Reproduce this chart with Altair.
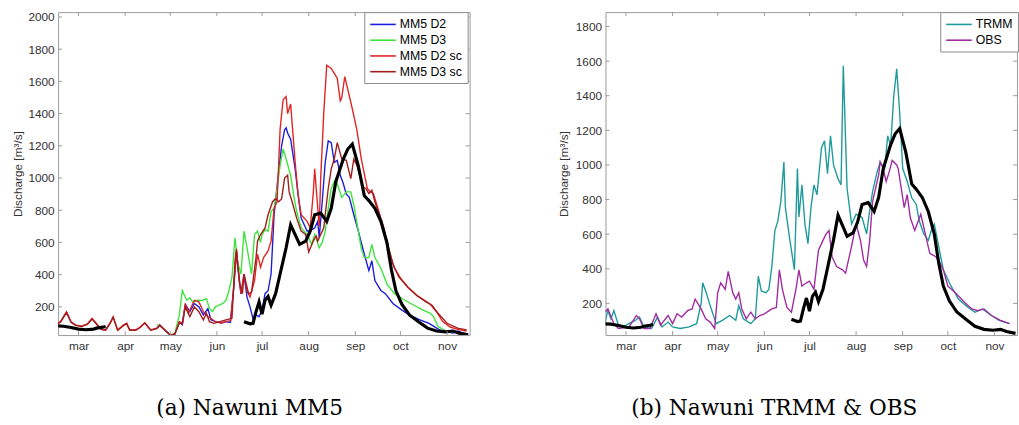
import altair as alt
import pandas as pd

# ---------------- axis ticks / labels ----------------
month_ticks = [60, 91, 121, 152, 182, 213, 244, 274, 305]
month_labels = ['mar', 'apr', 'may', 'jun', 'jul', 'aug', 'sep', 'oct', 'nov']
yticks_a = [200, 400, 600, 800, 1000, 1200, 1400, 1600, 1800, 2000]
yticks_b = [200, 400, 600, 800, 1000, 1200, 1400, 1600, 1800]

# ---------------- observed discharge (black, both panels) ----------------
obs_early = [(46, 82), (50, 80), (55, 72), (60, 62), (65, 58), (70, 62), (72, 68), (76, 74), (78, 78)]
obs_main = [(170, 108), (174, 95), (176, 98), (178, 170), (180, 231), (182, 155), (184, 241), (186, 265),
            (188, 210), (191, 282), (194, 404), (198, 567), (201, 710), (204, 649), (207, 588), (211, 608),
            (214, 670), (217, 772), (221, 782), (225, 731), (228, 812), (231, 976), (236, 1118), (239, 1180),
            (242, 1210), (246, 1075), (250, 890), (253, 860), (257, 812), (261, 731), (265, 600), (268, 430),
            (271, 300), (275, 215), (280, 150), (286, 108), (292, 68), (298, 50), (304, 45), (309, 50),
            (313, 37), (319, 27)]

# ---------------- panel (a): MM5 ----------------
mm5_d2 = [(112, 68), (114, 88), (117, 60), (121, 25), (124, 30), (127, 105), (129, 90), (131, 215), (134, 170),
          (137, 221), (140, 200), (143, 150), (146, 190), (148, 120), (151, 108), (155, 100), (158, 108),
          (161, 105), (163, 300), (165, 540), (166, 440), (168, 280), (170, 400), (172, 260), (174, 200),
          (176, 125), (178, 150), (180, 139), (182, 180), (184, 282), (186, 300), (188, 404), (190, 772),
          (192, 950), (193, 1037), (195, 1200), (197, 1300), (198, 1312), (199, 1280), (201, 1241), (204, 1057),
          (206, 894), (208, 751), (212, 670), (215, 680), (217, 690), (219, 731), (220, 629), (222, 853),
          (224, 1098), (226, 1231), (228, 1220), (230, 1098), (232, 1110), (234, 1017), (236, 966), (238, 900),
          (240, 880), (243, 772), (246, 670), (250, 527), (253, 425), (255, 486), (257, 363), (261, 302),
          (264, 282), (269, 221), (275, 180), (280, 149), (287, 119), (293, 98), (300, 57), (305, 45),
          (309, 37), (312, 50), (315, 40), (319, 27)]
mm5_d3 = [(112, 88), (114, 85), (117, 60), (121, 25), (124, 35), (127, 150), (129, 302), (131, 260), (132, 241),
          (134, 255), (136, 230), (139, 241), (142, 240), (145, 251), (147, 190), (149, 170), (151, 200),
          (153, 210), (156, 221), (158, 241), (160, 300), (162, 384), (164, 629), (166, 466), (168, 404),
          (170, 670), (172, 567), (175, 404), (177, 649), (179, 670), (181, 600), (182, 649), (184, 680),
          (186, 670), (188, 792), (190, 812), (192, 935), (194, 1078), (196, 1180), (198, 1118), (201, 1017),
          (203, 894), (205, 792), (208, 690), (212, 649), (215, 588), (217, 650), (220, 567), (222, 600),
          (224, 670), (226, 812), (228, 935), (231, 996), (233, 935), (235, 880), (238, 914), (241, 914),
          (243, 833), (246, 670), (248, 560), (250, 506), (253, 506), (255, 588), (257, 506), (261, 440),
          (265, 343), (270, 282), (277, 241), (283, 210), (289, 180), (294, 160), (296, 139), (299, 78),
          (305, 47), (312, 40), (318, 30)]
mm5_d2_sc = [(46, 98), (48, 108), (52, 170), (55, 108), (58, 88), (62, 80), (66, 95), (69, 129), (72, 95),
             (75, 62), (78, 57), (81, 100), (83, 139), (86, 57), (90, 88), (92, 98), (94, 57), (98, 57),
             (101, 75), (104, 102), (108, 57), (112, 68), (114, 88), (117, 60), (121, 25), (124, 30), (127, 108),
             (129, 100), (131, 221), (133, 160), (137, 241), (140, 231), (143, 170), (146, 140), (148, 129),
             (151, 108), (155, 100), (158, 108), (161, 115), (163, 302), (165, 547), (166, 445), (168, 282),
             (170, 404), (172, 300), (174, 261), (177, 363), (179, 527), (181, 445), (183, 506), (186, 547),
             (188, 608), (190, 812), (192, 853), (194, 1302), (196, 1486), (198, 1506), (199, 1400), (201, 1460),
             (203, 1220), (204, 1098), (206, 894), (208, 772), (212, 731), (214, 690), (216, 900), (217, 1057),
             (218, 935), (220, 700), (221, 1000), (223, 1400), (225, 1700), (228, 1680), (230, 1650),
             (232, 1620), (234, 1480), (235, 1500), (237, 1630), (239, 1550), (242, 1430), (245, 1300),
             (248, 1118), (252, 935), (254, 914), (256, 904), (259, 812), (263, 690), (266, 560), (270, 440),
             (274, 380), (279, 320), (285, 270), (290, 240), (294, 215), (298, 170), (302, 110), (307, 75),
             (312, 60), (318, 50)]
mm5_d3_sc = [(46, 95), (48, 105), (52, 165), (55, 105), (58, 85), (62, 78), (66, 92), (69, 125), (72, 92),
             (75, 60), (78, 55), (81, 98), (83, 135), (86, 55), (90, 85), (92, 95), (94, 55), (98, 55),
             (101, 72), (104, 100), (108, 55), (112, 65), (114, 85), (117, 58), (121, 25), (124, 32), (127, 100),
             (129, 95), (131, 200), (134, 140), (137, 200), (140, 170), (143, 119), (145, 160), (147, 108),
             (150, 98), (154, 108), (158, 119), (162, 129), (164, 486), (165, 560), (167, 343), (169, 282),
             (170, 404), (173, 282), (175, 290), (178, 506), (179, 608), (181, 649), (184, 690), (186, 772),
             (189, 853), (191, 873), (193, 853), (195, 870), (197, 1000), (199, 1017), (200, 914), (202, 853),
             (205, 751), (208, 670), (211, 650), (213, 540), (216, 608), (218, 640), (219, 608), (221, 650),
             (223, 690), (226, 935), (228, 1057), (230, 1118), (232, 1220), (235, 1118), (238, 1110),
             (241, 996), (243, 1118), (245, 1080), (249, 945), (251, 935), (253, 904), (255, 925), (257, 853),
             (260, 772), (265, 608), (269, 466), (273, 384), (279, 322), (285, 271), (291, 231), (295, 210),
             (299, 160), (305, 98), (312, 68), (318, 57)]

# ---------------- panel (b): TRMM & OBS ----------------
trmm = [(46, 92), (48, 158), (50, 111), (52, 158), (55, 74), (58, 64), (62, 83), (66, 100), (69, 121), (72, 64),
        (77, 55), (81, 121), (84, 64), (88, 92), (91, 64), (96, 55), (102, 64), (107, 83), (110, 200),
        (111, 319), (113, 272), (116, 187), (120, 83), (124, 102), (129, 130), (133, 102), (135, 187),
        (138, 111), (143, 83), (146, 111), (148, 357), (150, 272), (153, 262), (155, 281), (157, 413),
        (159, 621), (161, 677), (163, 791), (165, 1017), (166, 753), (169, 564), (172, 394), (174, 979),
        (175, 700), (177, 885), (179, 658), (181, 545), (183, 753), (185, 885), (187, 828), (190, 1100),
        (192, 1140), (194, 950), (196, 1168), (198, 1000), (201, 920), (203, 885), (204.5, 1573), (207, 866),
        (210, 658), (213, 715), (217, 696), (220, 602), (222, 734), (224, 847), (227, 960), (229, 1017),
        (232, 979), (234, 1168), (236, 1111), (238, 1394), (240, 1555), (242, 1300), (244, 979), (247, 904),
        (250, 810), (253, 772), (255, 677), (258, 602), (261, 564), (263, 621), (265, 658), (268, 526),
        (271, 394), (275, 319), (281, 225), (286, 187), (292, 149), (297, 168), (303, 130), (308, 102),
        (315, 83)]
obs_purple = [(46, 149), (48, 168), (52, 83), (55, 55), (62, 64), (67, 130), (69, 111), (72, 55), (76, 55),
              (80, 140), (83, 74), (88, 130), (91, 83), (94, 140), (97, 121), (101, 158), (104, 168), (106, 225),
              (110, 168), (113, 111), (116, 92), (119, 55), (121, 262), (123, 319), (126, 281), (128, 385),
              (131, 262), (133, 225), (135, 262), (137, 168), (140, 111), (143, 149), (146, 111), (149, 130),
              (152, 140), (157, 168), (160, 177), (162, 394), (164, 281), (167, 177), (170, 149), (173, 281),
              (175, 394), (177, 300), (180, 319), (182, 328), (185, 281), (188, 508), (191, 564), (193, 600),
              (195, 621), (197, 470), (200, 413), (204, 394), (206, 375), (210, 530), (213, 660), (216, 560),
              (218, 451), (220, 413), (222, 560), (224, 791), (226, 866), (228, 942), (229, 1017), (231, 979),
              (233, 904), (235, 960), (237, 1026), (240, 1000), (241, 979), (243, 866), (245, 753), (247, 828),
              (249, 696), (252, 621), (256, 715), (259, 602), (262, 489), (266, 470), (269, 432), (271, 394),
              (274, 300), (279, 262), (284, 215), (290, 168), (294, 158), (298, 168), (303, 130), (309, 102),
              (315, 83)]

names_a = ['MM5 D2', 'MM5 D3', 'MM5 D2 sc', 'MM5 D3 sc']
colors_a = ['#1c1ce0', '#3ee43e', '#e02424', '#a21c1c']
names_b = ['TRMM', 'OBS']
colors_b = ['#1f9a9a', '#a12ca1']

# ---------------- layout constants ----------------
W, H = 418, 328
XDOM = [46.4, 320]
FONT = 'Liberation Sans'
FRAME = '#9a9a9a'


def frame_df(pairs, name):
    return pd.DataFrame({'day': [p[0] for p in pairs], 'q': [p[1] for p in pairs], 'series': name})


obs_df = pd.concat([
    pd.DataFrame({'day': [p[0] for p in obs_early], 'q': [p[1] for p in obs_early], 'seg': 'a'}),
    pd.DataFrame({'day': [p[0] for p in obs_main], 'q': [p[1] for p in obs_main], 'seg': 'b'}),
])

label_expr = f"{month_labels}[indexof({month_ticks}, datum.value)]"


def panel(series, names, colors, ydom, yticks, caption, cap_x, ytitle_x, legend_x):
    xs = alt.Scale(domain=XDOM, nice=False, zero=False)
    ys = alt.Scale(domain=ydom, nice=False, zero=False)
    xaxis = alt.Axis(values=month_ticks, labelExpr=label_expr, ticks=False, domain=False, grid=False,
                     labelFont=FONT, labelFontSize=12, labelColor='#333333', labelPadding=6,
                     title=caption, titleFont='DejaVu Serif', titleFontSize=22, titleFontWeight='normal',
                     titleColor='black', titleX=cap_x, titleY=81, titleBaseline='alphabetic')
    yaxis = alt.Axis(values=yticks, format='d', ticks=False, domain=False, grid=False, labelFont=FONT,
                     labelFontSize=12, labelColor='#333333', labelPadding=4,
                     title='Discharge [m³/s]', titleFont=FONT, titleFontSize=12, titleFontWeight='normal',
                     titleColor='#333333', titleX=ytitle_x, titleBaseline='middle')
    X = alt.X('day:Q', scale=xs, axis=xaxis)
    Y = alt.Y('q:Q', scale=ys, axis=yaxis)
    legend = alt.Legend(orient='none', legendX=legend_x, legendY=0, title=None, fillColor='white',
                        strokeColor='#8a8a8a', padding=5, symbolType='M-1,0H3', symbolSize=169,
                        symbolStrokeWidth=1.6, labelFont=FONT, labelFontSize=12.5, labelColor='black',
                        rowPadding=2, labelOffset=16, cornerRadius=0)
    C = alt.Color('series:N', scale=alt.Scale(domain=names, range=colors), legend=legend)
    layers = []
    for pairs, name in zip(series, names):
        layers.append(alt.Chart(frame_df(pairs, name)).mark_line(strokeWidth=1.4, clip=True)
                      .encode(x=X, y=Y, color=C))
    layers.append(alt.Chart(obs_df).mark_line(strokeWidth=3.2, color='black', clip=True)
                  .encode(x=X, y=Y, detail='seg:N'))
    xt = pd.DataFrame({'day': month_ticks})
    yt = pd.DataFrame({'q': yticks})
    layers.append(alt.Chart(xt).mark_rule(color=FRAME).encode(x=X, y=alt.value(H), y2=alt.value(H - 4)))
    layers.append(alt.Chart(xt).mark_rule(color=FRAME).encode(x=X, y=alt.value(0), y2=alt.value(4)))
    layers.append(alt.Chart(yt).mark_rule(color=FRAME).encode(y=Y, x=alt.value(0), x2=alt.value(4)))
    layers.append(alt.Chart(yt).mark_rule(color=FRAME).encode(y=Y, x=alt.value(W), x2=alt.value(W - 4)))
    return alt.layer(*layers).properties(width=W, height=H)


panel_a = panel([mm5_d2, mm5_d3, mm5_d2_sc, mm5_d3_sc], names_a, colors_a, [25, 2030], yticks_a,
                '(a) Nawuni MM5', 194, -41, 311)
panel_b = panel([trmm, obs_purple], names_b, colors_b, [17, 1883], yticks_b,
                '(b) Nawuni TRMM & OBS', 171, -43, 340)

chart = (alt.hconcat(panel_a, panel_b, spacing=87)
         .resolve_scale(color='independent', x='independent', y='independent')
         .properties(padding={'left': 11, 'top': 7, 'right': 0, 'bottom': 0}, background='white')
         .configure_view(stroke=FRAME, strokeWidth=1))

chart.save("out.html", embed_options={"renderer": "svg", "actions": False})
